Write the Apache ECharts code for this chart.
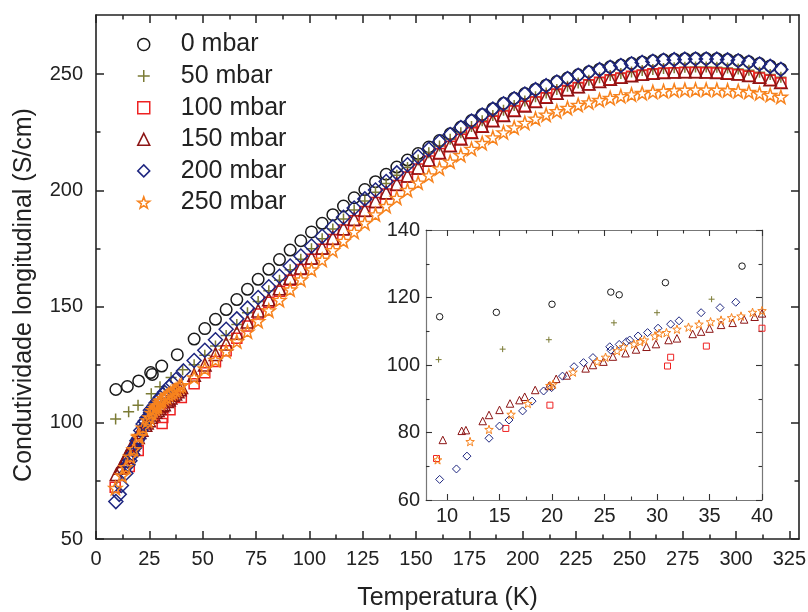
<!DOCTYPE html>
<html>
<head>
<meta charset="utf-8">
<script src="https://cdn.jsdelivr.net/npm/echarts@6/dist/echarts.min.js"></script>
<style>
html,body{margin:0;padding:0;background:#fff;}
#chart{width:808px;height:612px;}
</style>
</head>
<body>
<div id="chart"></div>
<script>
// ---------------- DATA ----------------
const seriesNames = ['0 mbar', '50 mbar', '100 mbar', '150 mbar', '200 mbar', '250 mbar'];

// Temperatures (K) of the regularly spaced high-temperature points
const tempsHigh = [46, 51, 56, 61, 66, 71, 76, 81, 86, 91, 96, 101, 106, 111, 116, 121, 126, 131, 136, 141,
  146, 151, 156, 161, 166, 171, 176, 181, 186, 191, 196, 201, 206, 211, 216, 221, 226, 231, 236, 241,
  246, 251, 256, 261, 266, 271, 276, 281, 286, 291, 296, 301, 306, 311, 316, 321];

// 0 mbar
const t0Low = [9.3, 14.7, 20.0, 25.6, 26.4, 30.8, 38.1];
const v0Low = [114.3, 115.6, 118.0, 121.6, 120.8, 124.4, 129.3];
const v0High = [136, 140.5, 144.5, 148.7, 153, 157.4, 161.7, 166, 170.2, 174.3, 178.3, 182.1, 185.8, 189.5, 193.2, 196.8, 200.3, 203.7, 206.9, 210,
  213, 215.8, 218.6, 221.4, 224.3, 227.2, 230, 232.6, 235.1, 237.4, 239.6, 241.6, 243.5, 245.2, 246.8, 248.3, 249.7, 251, 252.1, 253.1,
  253.9, 254.6, 255.2, 255.7, 256.1, 256.4, 256.6, 256.7, 256.7, 256.6, 256.3, 255.9, 255.3, 254.5, 253.5, 252.2];

// 50 mbar
const t50Low = [9.2, 15.3, 19.7, 25.9, 30.0, 35.2, 40.6];
const v50Low = [101.6, 104.7, 107.5, 112.5, 115.5, 119.5, 122.8];
const v50High = [125, 129, 133, 137.5, 142.3, 147.3, 152.2, 156.8, 161.3, 165.8, 170.3, 174.8, 179.2, 183.4, 187.6, 191.5, 195.4, 199.2, 202.9, 206.5,
  209.8, 213, 216.1, 219.1, 222, 224.8, 227.4, 229.9, 232.2, 234.4, 236.5, 238.4, 240.2, 241.9, 243.4, 244.8, 246.1, 247.3, 248.4, 249.4,
  250.2, 250.9, 251.5, 252, 252.4, 252.7, 252.9, 253, 253, 252.9, 252.6, 252.2, 251.6, 250.8, 249.8, 248.6];

// 100 mbar
const t100Low = [9.0, 15.6, 19.8, 31.0, 31.3, 34.7, 40.0];
const v100Low = [72.3, 81.2, 88.1, 99.7, 102.3, 105.6, 110.9];
const v100High = [116.8, 121.5, 126.3, 131, 136.3, 141.6, 146.8, 151.8, 156.6, 161.3, 165.9, 170.3, 174.6, 178.8, 182.9, 186.9, 190.9, 194.7, 198.4, 202.1,
  205.7, 209.2, 212.6, 215.8, 218.9, 221.9, 224.7, 227.3, 229.7, 232, 234.1, 236.1, 238, 239.8, 241.4, 242.9, 244.2, 245.4, 246.5, 247.5,
  248.3, 249, 249.6, 250.1, 250.4, 250.6, 250.7, 250.7, 250.6, 250.4, 250.1, 249.7, 249.1, 248.3, 247.3, 246.1];

// 150 mbar
const t150Low = [9.6, 11.4, 11.8, 13.4, 14.0, 15.0, 16.0, 16.9, 17.4, 18.4, 19.7, 20.4, 21.4, 23.2, 23.9, 24.9,
  25.8, 27.0, 28.0, 29.0, 29.9, 31.1, 31.9, 33.4, 34.2, 35.0, 36.1, 37.2, 38.3, 39.3, 40.0];
const v150Low = [77.8, 80.5, 80.7, 83.4, 85.2, 86.7, 88.6, 89.6, 90.6, 92.6, 93.8, 95.9, 96.9, 99.0, 100.0, 101.0,
  102.5, 103.5, 104.6, 105.4, 106.2, 107.4, 107.9, 109.2, 109.9, 110.8, 111.9, 112.5, 113.5, 114.3, 115.3];
const v150High = [120.5, 125, 129.5, 134, 138.6, 143.4, 148.2, 153, 157.7, 162.3, 166.7, 171, 175.3, 179.5, 183.6, 187.6, 191.5, 195.3, 199, 202.7,
  206.3, 209.7, 213, 216.2, 219.3, 222.2, 225, 227.6, 230, 232.3, 234.4, 236.4, 238.3, 240.1, 241.8, 243.3, 244.6, 245.8, 246.9, 247.9,
  248.7, 249.4, 250, 250.5, 250.8, 251, 251.1, 251.1, 251, 250.8, 250.5, 250.1, 249.5, 248.7, 247.7, 246.5];

// 200 mbar
const t200Low = [9.3, 10.9, 11.9, 14.0, 15.0, 15.9, 17.2, 18.1, 19.2, 19.96, 21.0, 22.1, 23.0, 23.9,
  25.5, 25.6, 26.4, 27.1, 27.4, 28.2, 29.1, 30.1, 31.3, 32.1, 34.2, 36.0, 37.5, 41.0];
const v200Low = [66.1, 69.2, 73.0, 78.3, 81.9, 83.7, 86.4, 89.3, 92.3, 93.3, 96.7, 99.5, 100.7, 102.2,
  105.4, 104.4, 106.1, 106.9, 107.4, 108.6, 109.6, 110.9, 112.1, 113.1, 115.5, 117.0, 118.6, 122.3];
const v200High = [126.8, 131.2, 135.7, 140.2, 144.7, 149.3, 153.9, 158.5, 163, 167.4, 171.7, 176, 180.2, 184.3, 188.4, 192.4, 196.3, 200.1, 203.8, 207.5,
  211, 214.4, 217.7, 220.9, 224, 227, 229.8, 232.4, 234.9, 237.2, 239.4, 241.4, 243.3, 245, 246.6, 248.1, 249.5, 250.8, 251.9, 252.9,
  253.7, 254.4, 255, 255.5, 255.9, 256.2, 256.4, 256.5, 256.5, 256.4, 256.1, 255.7, 255.1, 254.3, 253.3, 252];

// 250 mbar
const t250Low = [9.1, 12.2, 14.0, 16.1, 17.7, 19.8, 20.1, 22.0, 24.3, 25.1, 26.2, 26.8, 27.8, 28.4,
  28.8, 29.8, 30.2, 30.9, 31.9, 33.0, 34.0, 35.1, 36.1, 37.1, 38.0, 39.1, 40.0];
const v250Low = [71.9, 77.3, 80.9, 85.4, 88.6, 93.9, 94.3, 97.9, 101.0, 102.3, 104.2, 105.4, 106.2, 106.9,
  107.4, 108.6, 109.4, 109.6, 110.6, 111.2, 112.1, 112.8, 113.3, 114.0, 114.5, 115.6, 116.1];
const v250High = [119.5, 123.3, 127, 130.8, 135, 139.2, 143.7, 148.3, 152.8, 157.3, 161.6, 165.9, 170.1, 174.2, 178.2, 182.1, 185.9, 189.6, 193.2, 196.7,
  200.1, 203.3, 206.4, 209.4, 212.3, 215.1, 217.8, 220.3, 222.7, 224.9, 227, 229, 230.8, 232.5, 234, 235.4, 236.7, 237.8, 238.8, 239.7,
  240.5, 241.2, 241.8, 242.3, 242.7, 243, 243.2, 243.3, 243.3, 243.2, 243, 242.7, 242.3, 241.7, 241, 240.2];

// Tick values
const xTicksMain = [0, 25, 50, 75, 100, 125, 150, 175, 200, 225, 250, 275, 300, 325];
const xMinorMain = [12.5, 37.5, 62.5, 87.5, 112.5, 137.5, 162.5, 187.5, 212.5, 237.5, 262.5, 287.5, 312.5];
const yTicksMain = [50, 100, 150, 200, 250];
const yMinorMain = [75, 125, 175, 225];
const xTicksInset = [10, 15, 20, 25, 30, 35, 40];
const xMinorInset = [12.5, 17.5, 22.5, 27.5, 32.5, 37.5];
const yTicksInset = [60, 80, 100, 120, 140];
const yMinorInset = [70, 90, 110, 130];

// ---------------- STYLE ----------------
const FONT = 'Liberation Sans, Arial, sans-serif';
const STAR = 'path://M0,-1L0.2351,-0.3236L0.9511,-0.309L0.3804,0.1236L0.5878,0.809L0,0.4L-0.5878,0.809L-0.3804,0.1236L-0.9511,-0.309L-0.2351,-0.3236Z';
const PLUS = 'path://M0,-1L0,1M-1,0L1,0';
const styles = [
  {color: '#1a1a1a', symbol: 'circle', size: 11.5, insetSize: 6.5},
  {color: '#7b7b35', symbol: PLUS, size: 11, insetSize: 6},
  {color: '#ee2222', symbol: 'rect', size: 10, insetSize: 6},
  {color: '#8c1515', symbol: 'triangle', size: 12.5, insetSize: 7.5},
  {color: '#1e2680', symbol: 'diamond', size: 14, insetSize: 8},
  {color: '#f7831e', symbol: STAR, size: 13, insetSize: 8.5}
];
const lows = [[t0Low, v0Low], [t50Low, v50Low], [t100Low, v100Low], [t150Low, v150Low], [t200Low, v200Low], [t250Low, v250Low]];
const highs = [v0High, v50High, v100High, v150High, v200High, v250High];

function buildData(i) {
  const [lt, lv] = lows[i];
  const d = lt.map((t, k) => [t, lv[k]]);
  return d.concat(tempsHigh.map((t, k) => [t, highs[i][k]]));
}

function makeAxes(dim, grid, min, max, ticks, minors, cfg) {
  const pos = dim === 'x' ? ['bottom', 'top'] : ['left', 'right'];
  const out = [];
  pos.forEach((p, k) => {
    const main = {
      type: 'value', gridIndex: grid, position: p, min: min, max: max, scale: true,
      axisLine: {show: true, onZero: false, lineStyle: {color: cfg.lineColor, width: cfg.lineWidth}},
      axisTick: {show: true, inside: true, length: cfg.major, customValues: ticks, lineStyle: {color: cfg.tickColor, width: cfg.tickWidth}},
      axisLabel: {show: k === 0, customValues: ticks, fontSize: cfg.font, color: '#222', margin: cfg.margin, fontFamily: FONT},
      splitLine: {show: false}
    };
    if (k === 0 && cfg.name) {
      main.name = cfg.name;
      main.nameLocation = 'middle';
      main.nameGap = cfg.nameGap;
      main.nameTextStyle = {fontSize: 25, color: '#222', fontFamily: FONT};
    }
    out.push(main);
    out.push({
      type: 'value', gridIndex: grid, position: p, min: min, max: max, scale: true,
      axisLine: {show: false, onZero: false},
      axisTick: {show: true, inside: true, length: cfg.minor, customValues: minors, lineStyle: {color: cfg.tickColor, width: cfg.tickWidth}},
      axisLabel: {show: false},
      splitLine: {show: false}
    });
  });
  return out;
}

const mainCfgX = {lineColor: '#222', lineWidth: 1.6, tickColor: '#222', tickWidth: 1.5, major: 8, minor: 4.5, font: 20, margin: 10, name: 'Temperatura (K)', nameGap: 47};
const mainCfgY = {lineColor: '#222', lineWidth: 1.6, tickColor: '#222', tickWidth: 1.5, major: 8, minor: 4.5, font: 20, margin: 13};
const insetCfgX = {lineColor: '#777', lineWidth: 1.2, tickColor: '#333', tickWidth: 1.1, major: 6, minor: 3.5, font: 20, margin: 6};
const insetCfgY = {lineColor: '#777', lineWidth: 1.2, tickColor: '#333', tickWidth: 1.1, major: 6, minor: 3.5, font: 20, margin: 6};

const xAxes = makeAxes('x', 0, 0, 329.5, xTicksMain, xMinorMain, mainCfgX)
  .concat(makeAxes('x', 1, 8, 40, xTicksInset, xMinorInset, insetCfgX));
const yAxes = makeAxes('y', 0, 50, 275.4, yTicksMain, yMinorMain, mainCfgY)
  .concat(makeAxes('y', 1, 60, 140, yTicksInset, yMinorInset, insetCfgY));

const series = [];
seriesNames.forEach((name, i) => {
  const st = styles[i];
  const data = buildData(i);
  series.push({
    type: 'scatter', name: name, xAxisIndex: 0, yAxisIndex: 0, data: data,
    symbol: st.symbol, symbolSize: st.size,
    itemStyle: {color: 'rgba(0,0,0,0)', borderColor: st.color, borderWidth: 1.5, opacity: 1},
    emphasis: {disabled: true}, z: 2 + i
  });
  series.push({
    type: 'scatter', name: name, xAxisIndex: 4, yAxisIndex: 4, data: data,
    symbol: st.symbol, symbolSize: st.insetSize, clip: true,
    itemStyle: {color: 'rgba(0,0,0,0)', borderColor: st.color, borderWidth: 1, opacity: 1},
    emphasis: {disabled: true}, z: 2 + i
  });
});

const chart = echarts.init(document.getElementById('chart'), null, {renderer: 'canvas'});
chart.setOption({
  animation: false,
  backgroundColor: '#fff',
  textStyle: {fontFamily: FONT},
  grid: [
    {left: 96, top: 15, width: 703, height: 524, containLabel: false, outerBoundsMode: 'none'},
    {left: 426, top: 230, width: 336, height: 270, containLabel: false, outerBoundsMode: 'none', show: true, backgroundColor: '#fff', borderWidth: 0}
  ],
  legend: {
    orient: 'vertical', left: 137, top: 32, padding: 0,
    itemWidth: 12, itemHeight: 12, itemGap: 6.6, symbolKeepAspect: true,
    textStyle: {fontSize: 25, color: '#222', fontFamily: FONT, lineHeight: 25, padding: [0, 0, 0, 26]},
    selectedMode: false,
    data: seriesNames.map((n, i) => ({name: n, icon: styles[i].symbol,
      itemStyle: {color: 'rgba(0,0,0,0)', borderColor: styles[i].color, borderWidth: 1.5}}))
  },
  xAxis: xAxes,
  yAxis: yAxes,
  graphic: [{
    type: 'text', x: 24, y: 295, rotation: Math.PI / 2,
    style: {text: 'Condutividade longitudinal (S/cm)', font: '25px ' + FONT, fill: '#222', align: 'center', verticalAlign: 'middle'}
  }],
  series: series
});
</script>
</body>
</html>
